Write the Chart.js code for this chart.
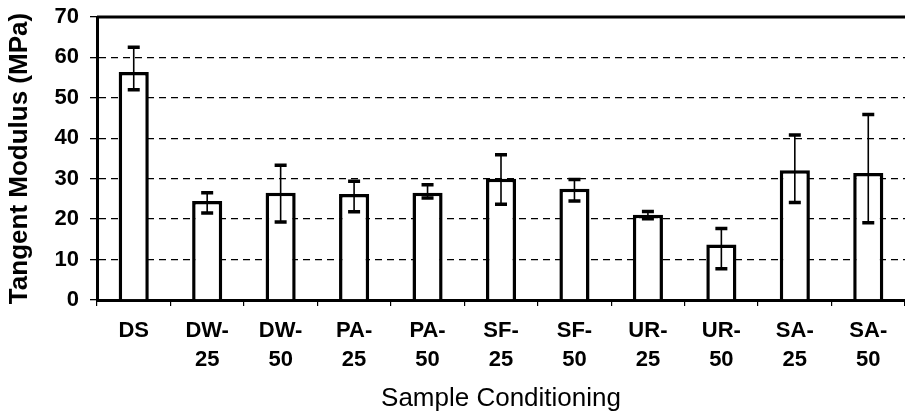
<!DOCTYPE html>
<html>
<head>
<meta charset="utf-8">
<script src="https://cdn.jsdelivr.net/npm/chart.js@4.4.1/dist/chart.umd.min.js"></script>
<style>
    html, body { margin: 0; padding: 0; background: #ffffff; }
    #wrap { width: 905px; height: 416px; }
</style>
</head>
<body>
<div id="wrap"><canvas id="myChart" width="905" height="416"></canvas></div>
<script>
// du lieu doc tu hinh
const categories = [["DS"], ["DW-", "25"], ["DW-", "50"], ["PA-", "25"], ["PA-", "50"], ["SF-", "25"],
    ["SF-", "50"], ["UR-", "25"], ["UR-", "50"], ["SA-", "25"], ["SA-", "50"]];
const modulus = [56.4, 24.5, 26.5, 26.2, 26.5, 30.0, 27.5, 21.1, 13.7, 32.1, 31.4];
const errHigh = [62.5, 26.5, 33.3, 29.4, 28.5, 35.9, 29.8, 21.9, 17.7, 40.8, 45.9];
const errLow = [52.0, 21.5, 19.3, 21.8, 25.2, 23.7, 24.5, 20.1, 7.7, 24.1, 19.1];
const yTicks = [0, 10, 20, 30, 40, 50, 60, 70];

document.addEventListener("DOMContentLoaded", function() {
    renderChart();
});

// ve thanh sai so va duong vien tren
const errorBarPlugin = {
    id: "errorBars",
    afterDatasetsDraw(chart) {
        const ctx = chart.ctx;
        const meta = chart.getDatasetMeta(0);
        const y = chart.scales.y;
        const area = chart.chartArea;
        ctx.save();
        ctx.strokeStyle = "#000";
        // duong tren cung
        ctx.lineWidth = 3;
        ctx.beginPath();
        ctx.moveTo(area.left, area.top);
        ctx.lineTo(area.right, area.top);
        ctx.stroke();

        meta.data.forEach((bar, i) => {
            const x = bar.x;
            const yHi = y.getPixelForValue(errHigh[i]);
            const yLo = y.getPixelForValue(errLow[i]);
            ctx.lineWidth = 1.6;
            ctx.beginPath();
            ctx.moveTo(x, yHi);
            ctx.lineTo(x, yLo);
            ctx.stroke();
            ctx.lineWidth = 3.5;
            ctx.beginPath();
            ctx.moveTo(x - 6, yHi);
            ctx.lineTo(x + 6, yHi);
            ctx.moveTo(x - 6, yLo);
            ctx.lineTo(x + 6, yLo);
            ctx.stroke();
        });
        ctx.restore();
    }
};

function renderChart() {
    const ctx = document.getElementById("myChart").getContext("2d");

    new Chart(ctx, {
        type: 'bar',
        data: {
            labels: categories,
            datasets: [{
                label: 'Tangent Modulus',
                data: modulus,
                backgroundColor: '#ffffff',
                borderColor: '#000000',
                borderWidth: 3.5,
                barPercentage: 0.41,
                categoryPercentage: 1.0
            }]
        },
        options: {
            responsive: false,
            animation: false,
            layout: { padding: { top: 17, right: 0, bottom: 0, left: 0 } },
            plugins: {
                legend: { display: false },
                tooltip: { enabled: false }
            },
            scales: {
                x: {
                    offset: true,
                    grid: {
                        offset: true,
                        drawOnChartArea: false,
                        color: '#000',
                        tickLength: 6,
                        lineWidth: 1.2
                    },
                    border: { color: '#000', width: 3 },
                    ticks: {
                        color: '#000',
                        padding: 11,
                        maxRotation: 0,
                        autoSkip: false,
                        font: { family: 'Liberation Sans, Arial', size: 22, weight: 'bold', lineHeight: 1.3 }
                    },
                    title: {
                        display: true,
                        text: 'Sample Conditioning',
                        color: '#000',
                        padding: { top: 0, bottom: 2 },
                        font: { family: 'Liberation Sans, Arial', size: 26, lineHeight: 1.2 }
                    },
                    afterFit: function(scale) { scale.height = 116; }
                },
                y: {
                    min: 0,
                    max: 70,
                    afterBuildTicks: function(scale) {
                        scale.ticks = yTicks.map(v => ({ value: v }));
                    },
                    grid: {
                        color: '#000',
                        lineWidth: 1.3,
                        tickLength: 7,
                        tickBorderDash: [7, 5]
                    },
                    border: { color: '#000', width: 3, dash: [7, 5] },
                    ticks: {
                        color: '#000',
                        padding: 11,
                        font: { family: 'Liberation Sans, Arial', size: 22, weight: 'bold' }
                    },
                    title: {
                        display: true,
                        text: 'Tangent Modulus (MPa)',
                        color: '#000',
                        padding: { top: 4, bottom: 0 },
                        font: { family: 'Liberation Sans, Arial', size: 26, weight: 'bold', lineHeight: 1.2 }
                    },
                    afterFit: function(scale) {
                        scale.width = 97;
                        // bo khoang dem cua nhan tren/duoi
                        scale.paddingTop = 0;
                        scale.paddingBottom = 0;
                    }
                }
            }
        },
        plugins: [errorBarPlugin]
    });
}
</script>
</body>
</html>
